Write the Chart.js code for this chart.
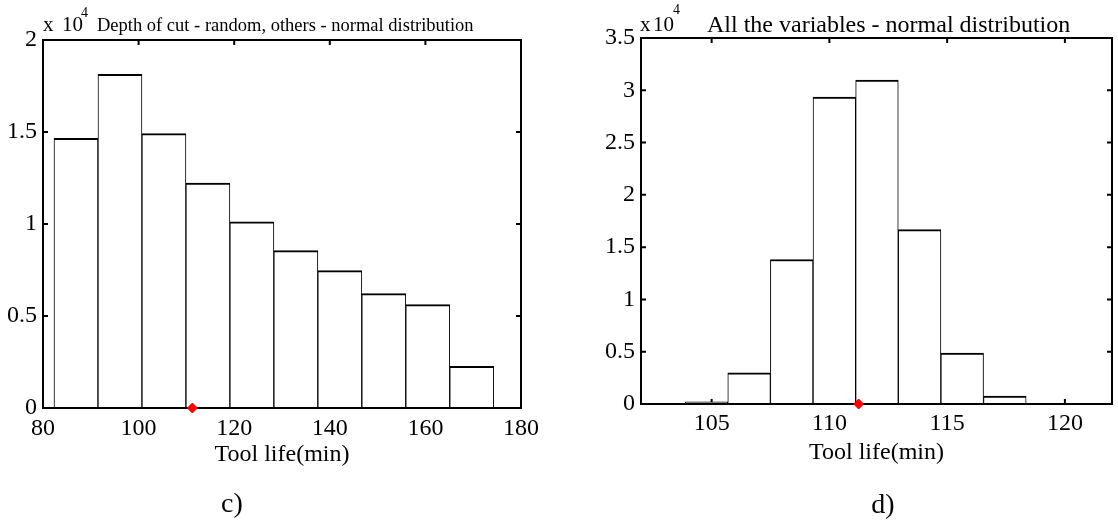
<!DOCTYPE html>
<html>
<head>
<meta charset="utf-8">
<script src="https://cdn.jsdelivr.net/npm/chart.js@4.4.1/dist/chart.umd.min.js"></script>
<style>
html,body{margin:0;padding:0;background:#fff;width:1118px;height:527px;overflow:hidden;}
body{position:relative;font-family:"Liberation Serif","Times New Roman",serif;color:#000;}
canvas{position:absolute;top:0;}
.t{position:absolute;white-space:nowrap;line-height:1;}
</style>
</head>
<body>
<canvas id="chartC" width="560" height="527" style="left:0;width:560px;height:527px"></canvas>
<canvas id="chartD" width="558" height="527" style="left:560px;width:558px;height:527px"></canvas>

<div class="t" style="left:43px;top:14px;font-size:21px">x</div>
<div class="t" style="left:62px;top:14px;font-size:21px">10</div>
<div class="t" style="left:81px;top:6px;font-size:14px">4</div>
<div class="t" style="left:97px;top:15.5px;font-size:18.5px">Depth of cut - random, others - normal distribution</div>

<div class="t" style="left:640px;top:14px;font-size:21px">x</div>
<div class="t" style="left:653px;top:14px;font-size:21px">10</div>
<div class="t" style="left:673px;top:3px;font-size:14px">4</div>
<div class="t" style="left:707px;top:11.5px;font-size:24px">All the variables - normal distribution</div>

<div class="t" style="left:182px;width:100px;text-align:center;top:489px;font-size:28px">c)</div>
<div class="t" style="left:833px;width:100px;text-align:center;top:490px;font-size:28px">d)</div>

<script>
// ---- data (counts in units of 10^4) ----
const cBinCenters = [86.9, 96.1, 105.3, 114.5, 123.7, 132.9, 142.1, 151.3, 160.5, 169.7];
const cCounts     = [1.466, 1.813, 1.491, 1.222, 1.012, 0.855, 0.747, 0.622, 0.562, 0.226];
const cMarkerX    = 111.25;
const cXTicks     = [80, 100, 120, 140, 160, 180];
const cYTicks     = [0, 0.5, 1, 1.5, 2];

const dBinCenters = [102.97, 104.78, 106.59, 108.40, 110.21, 112.02, 113.83, 115.64, 117.45, 119.26];
const dCounts     = [0.004, 0.02, 0.298, 1.382, 2.936, 3.098, 1.668, 0.486, 0.076, 0.007];
const dMarkerX    = 111.24;
const dXTicks     = [105, 110, 115, 120];
const dYTicks     = [0, 0.5, 1, 1.5, 2, 2.5, 3, 3.5];

const xTitle = 'Tool life(min)';

const tickFont = {family: '"Liberation Serif", "Times New Roman", serif', size: 24};

const boxPlugin = {
  id: 'matlabBox',
  beforeDatasetsDraw(chart) {
    const {ctx, chartArea: a, scales: {x, y}} = chart;
    const L = 5;
    ctx.save();
    ctx.strokeStyle = '#000';
    ctx.lineWidth = 2;
    ctx.beginPath();
    x.ticks.forEach(t => {
      const px = x.getPixelForValue(t.value);
      if (px <= a.left + 1 || px >= a.right - 1) return;
      ctx.moveTo(px, a.bottom); ctx.lineTo(px, a.bottom - L);
      ctx.moveTo(px, a.top); ctx.lineTo(px, a.top + L);
    });
    y.ticks.forEach(t => {
      const py = y.getPixelForValue(t.value);
      if (py <= a.top + 1 || py >= a.bottom - 1) return;
      ctx.moveTo(a.left, py); ctx.lineTo(a.left + L, py);
      ctx.moveTo(a.right, py); ctx.lineTo(a.right - L, py);
    });
    ctx.stroke();
    ctx.restore();
  },
  afterDatasetDraw(chart, args) {
    if (args.meta.type !== 'bar') return;
    const {ctx, chartArea: a} = chart;
    ctx.save();
    ctx.strokeStyle = '#000';
    ctx.lineWidth = 2;
    ctx.strokeRect(a.left, a.top, a.right - a.left, a.bottom - a.top);
    ctx.restore();
  }
};

function histChart(id, centers, counts, markerX, xMin, xMax, xTicks, yMax, yTicks, area) {
  return new Chart(document.getElementById(id), {
    type: 'bar',
    data: {
      datasets: [
        {
          type: 'bar',
          data: centers.map((c, i) => ({x: c, y: counts[i]})),
          backgroundColor: '#fff',
          borderColor: '#000',
          borderWidth: {top: 2, left: 1, right: 1, bottom: 0},
          barPercentage: 1,
          categoryPercentage: 1,
          order: 2
        },
        {
          type: 'scatter',
          data: [{x: markerX, y: 0}],
          pointStyle: 'rectRot',
          pointRadius: 5,
          backgroundColor: '#ff0000',
          borderColor: '#ff0000',
          borderWidth: 1,
          clip: false,
          order: 1
        }
      ]
    },
    options: {
      responsive: false,
      animation: false,
      events: [],
      layout: {padding: {left: 0, top: area.top, right: area.right, bottom: 0}},
      plugins: {legend: {display: false}, tooltip: {enabled: false}, title: {display: false}},
      scales: {
        x: {
          type: 'linear', min: xMin, max: xMax, offset: false,
          afterBuildTicks: s => { s.ticks = xTicks.map(v => ({value: v})); },
          afterFit: s => { s.height = area.xh; },
          grid: {display: false, drawTicks: false},
          border: {display: false},
          ticks: {font: tickFont, color: '#000', padding: area.xpad, maxRotation: 0, autoSkip: false, callback: v => String(v)},
          title: {display: true, text: xTitle, font: tickFont, color: '#000', padding: {top: 0, bottom: area.tpad}}
        },
        y: {
          type: 'linear', min: 0, max: yMax,
          afterBuildTicks: s => { s.ticks = yTicks.map(v => ({value: v})); },
          afterFit: s => { s.width = area.yw; },
          grid: {display: false, drawTicks: false},
          border: {display: false},
          ticks: {font: tickFont, color: '#000', padding: 6, autoSkip: false, callback: v => String(v)}
        }
      }
    },
    plugins: [boxPlugin]
  });
}

histChart('chartC', cBinCenters, cCounts, cMarkerX, 80, 180, cXTicks, 2, cYTicks,
  {top: 40, right: 39, xh: 119, yw: 43, tpad: 58, xpad: 6});
histChart('chartD', dBinCenters, dCounts, dMarkerX, 102, 122, dXTicks, 3.5, dYTicks,
  {top: 38, right: 1, xh: 123, yw: 81, tpad: 60, xpad: 5});
</script>
</body>
</html>
